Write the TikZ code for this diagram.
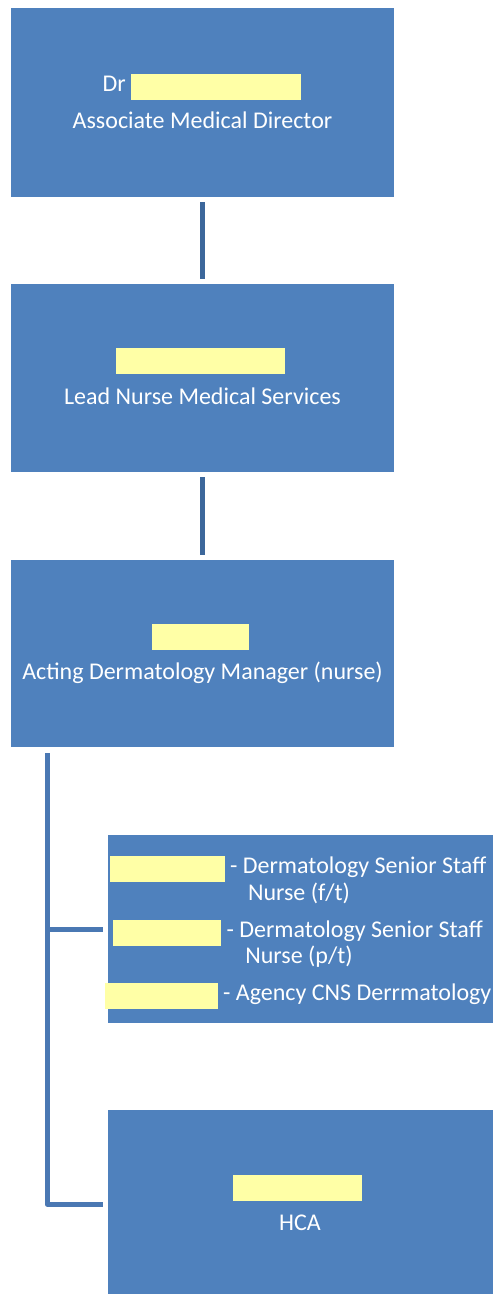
\documentclass[tikz,border=0pt]{standalone}
\usepackage{fontspec}
\setmainfont{Carlito}
\definecolor{boxblue}{HTML}{4F81BD}
\definecolor{linkblue}{HTML}{3C679B}
\definecolor{spineblue}{HTML}{4A78B3}
\definecolor{hlyellow}{HTML}{FFFFA6}
% yellow bar that hides a name
\newcommand{\hlbar}[1]{\textcolor{hlyellow}{\rule[-9pt]{#1}{26pt}}}

\begin{document}
\begin{tikzpicture}[x=1pt, y=-1pt,
    every node/.style={inner sep=0pt, text=white, font=\fontsize{24}{29}\selectfont},
    box/.style={fill=boxblue, minimum width=383pt, minimum height=188pt},
    wide/.style={box, minimum width=385pt},
    line/.style={anchor=base},
    link/.style={draw=linkblue, line width=5pt, shorten >=5pt, shorten <=5pt},
    spine/.style={draw=spineblue, line width=5pt, line join=round}]
    \useasboundingbox (0,0) rectangle (493,1294);
    % boxes
    \node [box, minimum height=189pt] (AMD) at (202.5,102.5) {};
    \node [box] (LeadNurse) at (202.5,378) {};
    \node [box, minimum height=187pt] (Manager) at (202.5,653.5) {};
    \node [wide] (Staff) at (300.5,929) {};
    \node [wide] (HCA) at (300.5,1204) {};
    % texts
    \node [line] (AMDname) at (202,91) {Dr \hlbar{170pt}};
    \node [line] (AMDrole) at (202.5,128) {Associate Medical Director};
    \node [line] (LeadName) at (200.5,365) {\hlbar{169pt}};
    \node [line] (LeadRole) at (202.5,404) {Lead Nurse Medical Services};
    \node [line] (MgrName) at (200.5,641) {\hlbar{97pt}};
    \node [line] (MgrRole) at (202.5,679) {Acting Dermatology Manager (nurse)};
    \node [line] (SeniorA) at (298,873) {\hlbar{115pt} - Dermatology Senior Staff};
    \node [line] (SeniorAb) at (299,900) {Nurse (f/t)};
    \node [line] (SeniorB) at (298,937) {\hlbar{108pt} - Dermatology Senior Staff};
    \node [line] (SeniorBb) at (299,963) {Nurse (p/t)};
    \node [line] (Agency) at (298,1000) {\hlbar{113pt} - Agency CNS Derrmatology};
    \node [line] (HCAname) at (297.5,1192) {\hlbar{129pt}};
    \node [line] (HCArole) at (300,1230) {HCA};
    % connectors
    \path [link] (AMD.south) -- (LeadNurse.north);
    \path [link] (LeadNurse.south) -- (Manager.north);
    \coordinate (SpineTop) at (47,747);
    \path [spine, shorten <=6pt, shorten >=5pt] (SpineTop) |- (HCA.west);
    \path [spine, shorten >=5pt] (SpineTop |- Staff.west) -- (Staff.west);
\end{tikzpicture}
\end{document}
